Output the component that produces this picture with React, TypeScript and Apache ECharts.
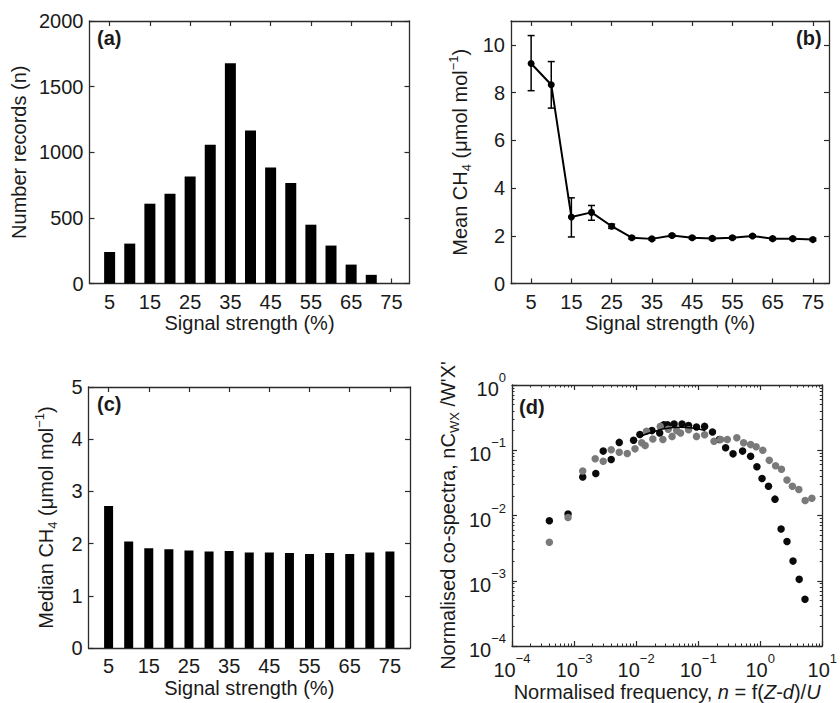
import React, { useEffect, useRef } from 'react';
import * as echarts from 'echarts';

// ---------- data ----------
const signalStrength = [5, 10, 15, 20, 25, 30, 35, 40, 45, 50, 55, 60, 65, 70, 75];
const numberRecords = [240, 304, 608, 684, 815, 1058, 1678, 1165, 884, 765, 448, 289, 144, 66, 0];
const meanCH4 = [9.22, 8.33, 2.79, 2.98, 2.4, 1.92, 1.87, 2.01, 1.92, 1.89, 1.92, 1.99, 1.88, 1.88, 1.84];
const meanCH4Low = [8.08, 7.35, 1.95, 2.65, 2.31, 1.87, 1.82, 1.96, 1.87, 1.84, 1.87, 1.94, 1.83, 1.83, 1.79];
const meanCH4High = [10.39, 9.3, 3.59, 3.27, 2.49, 1.97, 1.92, 2.06, 1.97, 1.94, 1.97, 2.04, 1.93, 1.93, 1.89];
const medianCH4 = [2.72, 2.04, 1.91, 1.89, 1.87, 1.85, 1.86, 1.83, 1.83, 1.82, 1.8, 1.82, 1.8, 1.83, 1.85];

const signalTicks = [5, 15, 25, 35, 45, 55, 65, 75];
const countTicks = [0, 500, 1000, 1500, 2000];
const meanTicks = [0, 2, 4, 6, 8, 10];
const medianTicks = [0, 1, 2, 3, 4, 5];

// co-spectra: [normalised frequency, normalised co-spectrum]
const cospectraBlack: [number, number][] = [
  [4.0e-4, 0.0083], [8.0e-4, 0.0105], [1.38e-3, 0.039], [2.24e-3, 0.044], [2.95e-3, 0.097],
  [3.97e-3, 0.072], [5.35e-3, 0.132], [9.1e-3, 0.142], [0.0115, 0.174], [0.018, 0.2],
  [0.024, 0.184], [0.028, 0.246], [0.032, 0.246], [0.041, 0.252], [0.055, 0.252],
  [0.07, 0.24], [0.094, 0.227], [0.127, 0.232], [0.17, 0.19], [0.22, 0.146],
  [0.277, 0.109], [0.365, 0.088], [0.52, 0.097], [0.7, 0.081], [0.885, 0.056],
  [1.07, 0.037], [1.36, 0.028], [1.73, 0.0178], [2.17, 0.0062], [2.7, 0.004],
  [3.38, 0.002], [4.25, 0.00105], [5.27, 0.00052],
];
const cospectraGray: [number, number][] = [
  [4.0e-4, 0.0039], [8.0e-4, 0.0093], [1.38e-3, 0.048], [2.19e-3, 0.074], [2.95e-3, 0.068],
  [3.97e-3, 0.102], [5.35e-3, 0.093], [7.2e-3, 0.089], [9.6e-3, 0.105], [0.0123, 0.13],
  [0.014, 0.118], [0.0147, 0.195], [0.0186, 0.149], [0.0245, 0.232], [0.027, 0.146],
  [0.033, 0.21], [0.038, 0.163], [0.045, 0.2], [0.052, 0.184], [0.07, 0.206],
  [0.094, 0.163], [0.127, 0.173], [0.18, 0.137], [0.23, 0.146], [0.295, 0.146],
  [0.42, 0.155], [0.54, 0.13], [0.7, 0.122], [0.86, 0.113], [1.1, 0.1],
  [1.4, 0.07], [1.77, 0.058], [2.2, 0.051], [2.7, 0.035], [3.3, 0.028],
  [4.19, 0.025], [5.3, 0.017], [6.8, 0.0184],
];
const cospectraFit: [number, number][] = [
  [0.012, 0.165], [0.02, 0.195], [0.03, 0.215], [0.05, 0.225], [0.08, 0.22], [0.13, 0.2],
];

// ---------- styling ----------
const FONT = '"Liberation Sans", Arial, Helvetica, sans-serif';
const INK = '#1a1a1a';
const FRAME = '#2b2b2b';
const FS = 20;

const lineStyle = { color: FRAME, width: 1.3 };
const labelBase = { color: INK, fontSize: FS, fontFamily: FONT };

function tick(values?: number[]) {
  const t: any = { show: true, inside: true, length: 5, lineStyle: { color: FRAME, width: 1.2 } };
  if (values) t.customValues = values;
  return t;
}

const subRich = {
  n: { fontSize: FS, fontFamily: FONT, color: INK, lineHeight: 26, verticalAlign: 'middle' },
  sub: { fontSize: 13, fontFamily: FONT, color: INK, lineHeight: 13, verticalAlign: 'bottom' },
  sup: { fontSize: 13, fontFamily: FONT, color: INK, lineHeight: 13, verticalAlign: 'top' },
  i: { fontSize: FS, fontFamily: FONT, color: INK, lineHeight: 26, verticalAlign: 'middle', fontStyle: 'italic' },
};

const powRich = {
  b: { fontSize: FS, fontFamily: FONT, color: INK, lineHeight: 28, verticalAlign: 'bottom' },
  e: { fontSize: 13, fontFamily: FONT, color: INK, lineHeight: 13, verticalAlign: 'top' },
};

function powLabel(v: number) {
  const e = Math.round(Math.log10(v));
  return '{b|10}{e|' + (e < 0 ? '\u2212' + -e : String(e)) + '}';
}

const plain = (v: number) => String(v);

function linearX(gridIndex: number, min: number, max: number, name: string, nameGap: number) {
  return [
    {
      type: 'value', gridIndex, min, max, position: 'bottom',
      name, nameLocation: 'middle', nameGap,
      nameTextStyle: { color: INK, fontSize: FS, fontFamily: FONT },
      axisLine: { show: true, onZero: false, lineStyle },
      axisTick: tick(signalTicks),
      axisLabel: { ...labelBase, margin: 8, customValues: signalTicks, formatter: plain },
      splitLine: { show: false },
    },
    {
      type: 'value', gridIndex, min, max, position: 'top',
      axisLine: { show: true, onZero: false, lineStyle },
      axisTick: tick(signalTicks),
      axisLabel: { show: false },
      splitLine: { show: false },
    },
  ];
}

function linearY(gridIndex: number, min: number, max: number, ticks: number[], name: string, nameGap: number, rich?: any) {
  const nameTextStyle: any = { color: INK, fontSize: FS, fontFamily: FONT };
  if (rich) nameTextStyle.rich = rich;
  return [
    {
      type: 'value', gridIndex, min, max, position: 'left',
      name, nameLocation: 'middle', nameGap, nameTextStyle,
      axisLine: { show: true, onZero: false, lineStyle },
      axisTick: tick(ticks),
      axisLabel: { ...labelBase, margin: 6, customValues: ticks, formatter: plain },
      splitLine: { show: false },
    },
    {
      type: 'value', gridIndex, min, max, position: 'right',
      axisLine: { show: true, onZero: false, lineStyle },
      axisTick: tick(ticks),
      axisLabel: { show: false },
      splitLine: { show: false },
    },
  ];
}

const minorTick = { show: true, splitNumber: 9, length: 2.5, lineStyle: { color: FRAME, width: 1 } };

function logAxis(kind: 'x' | 'y', gridIndex: number, min: number, max: number, name: string, nameGap: number) {
  const primary: any = {
    type: 'log', logBase: 10, gridIndex, min, max,
    position: kind === 'x' ? 'bottom' : 'left',
    name, nameLocation: 'middle', nameGap,
    nameTextStyle: { color: INK, fontSize: FS, fontFamily: FONT, rich: subRich },
    axisLine: { show: true, onZero: false, lineStyle },
    axisTick: tick(),
    minorTick,
    axisLabel: { margin: 6, formatter: powLabel, rich: powRich, showMaxLabel: true, showMinLabel: true },
    splitLine: { show: false },
  };
  const secondary: any = {
    type: 'log', logBase: 10, gridIndex, min, max,
    position: kind === 'x' ? 'top' : 'right',
    axisLine: { show: true, onZero: false, lineStyle },
    axisTick: tick(),
    minorTick,
    axisLabel: { show: false },
    splitLine: { show: false },
  };
  return [primary, secondary];
}

function panelLabel(text: string, left: number, top: number) {
  return {
    type: 'text', left, top, z: 100,
    style: { text, fill: INK, font: 'bold ' + FS + 'px ' + FONT },
  };
}

function buildOption(): any {
  const xAxes = [
    ...linearX(0, 0, 79.5, 'Signal strength (%)', 29),
    ...linearX(1, 0, 79, 'Signal strength (%)', 29),
    ...linearX(2, 0, 80, 'Signal strength (%)', 30),
    ...logAxis('x', 3, 1e-4, 10,
      '{n|Normalised frequency, }{i|n}{n| = f(}{i|Z}{n|-}{i|d}{n|)/}{i|U}', 33),
  ];
  const yAxes = [
    ...linearY(0, 0, 2000, countTicks, 'Number records (n)', 61),
    ...linearY(1, 0, 11, meanTicks, '{n|Mean CH}{sub|4}{n| (\u03bcmol mol}{sup|\u22121}{n|)}', 38, subRich),
    ...linearY(2, 0, 5, medianTicks, '{n|Median CH}{sub|4}{n| (\u03bcmol mol}{sup|\u22121}{n|)}', 30, subRich),
    ...logAxis('y', 3, 1e-4, 1,
      "{n|Normalised co-spectra, nC}{sub|WX}{n| /W'X'}", 51),
  ];

  return {
    animation: false,
    backgroundColor: '#ffffff',
    grid: [
      { left: 89.5, top: 21, width: 320, height: 262.5 },
      { left: 511, top: 21, width: 318, height: 262.5 },
      { left: 88.5, top: 387, width: 321.5, height: 261 },
      { left: 512, top: 385, width: 320, height: 263 },
    ],
    xAxis: xAxes,
    yAxis: yAxes,
    graphic: [
      panelLabel('(a)', 97, 28),
      panelLabel('(b)', 796, 28),
      panelLabel('(c)', 97, 394),
      panelLabel('(d)', 519, 397),
    ],
    series: [
      {
        type: 'bar', xAxisIndex: 0, yAxisIndex: 0, barWidth: 11,
        itemStyle: { color: '#000' },
        data: signalStrength.map((s, i) => [s, numberRecords[i]]),
      },
      {
        type: 'custom', xAxisIndex: 2, yAxisIndex: 2,
        data: signalStrength.map((s, i) => [s, meanCH4Low[i], meanCH4High[i]]),
        encode: { x: 0, y: [1, 2] },
        renderItem: (params: any, api: any) => {
          const x = api.value(0);
          const lo = api.coord([x, api.value(1)]);
          const hi = api.coord([x, api.value(2)]);
          const w = 3.5;
          const st = { stroke: '#000', lineWidth: 1.5 };
          return {
            type: 'group',
            children: [
              { type: 'line', shape: { x1: lo[0], y1: lo[1], x2: hi[0], y2: hi[1] }, style: st },
              { type: 'line', shape: { x1: lo[0] - w, y1: lo[1], x2: lo[0] + w, y2: lo[1] }, style: st },
              { type: 'line', shape: { x1: hi[0] - w, y1: hi[1], x2: hi[0] + w, y2: hi[1] }, style: st },
            ],
          };
        },
      },
      {
        type: 'line', xAxisIndex: 2, yAxisIndex: 2,
        symbol: 'circle', symbolSize: 7,
        lineStyle: { color: '#000', width: 2 },
        itemStyle: { color: '#000' },
        data: signalStrength.map((s, i) => [s, meanCH4[i]]),
      },
      {
        type: 'bar', xAxisIndex: 4, yAxisIndex: 4, barWidth: 9,
        itemStyle: { color: '#000' },
        data: signalStrength.map((s, i) => [s, medianCH4[i]]),
      },
      {
        type: 'scatter', xAxisIndex: 6, yAxisIndex: 6, symbolSize: 7.5,
        itemStyle: { color: '#0a0a0a', opacity: 1 },
        data: cospectraBlack,
      },
      {
        type: 'line', xAxisIndex: 6, yAxisIndex: 6, symbol: 'none', smooth: true,
        lineStyle: { color: '#000', width: 1.5 },
        data: cospectraFit,
      },
      {
        type: 'scatter', xAxisIndex: 6, yAxisIndex: 6, symbolSize: 7.5,
        itemStyle: { color: '#7a7a7a', opacity: 1 },
        data: cospectraGray,
      },
    ],
  };
}

export default function App() {
  const ref = useRef<HTMLDivElement>(null);
  useEffect(() => {
    if (!ref.current) return;
    const chart = echarts.init(ref.current, undefined, { renderer: 'svg' });
    chart.setOption(buildOption());
    return () => chart.dispose();
  }, []);
  return (
    <div
      ref={ref}
      style={{ position: 'absolute', left: 0, top: 0, width: 840, height: 703, background: '#fff' }}
    />
  );
}
